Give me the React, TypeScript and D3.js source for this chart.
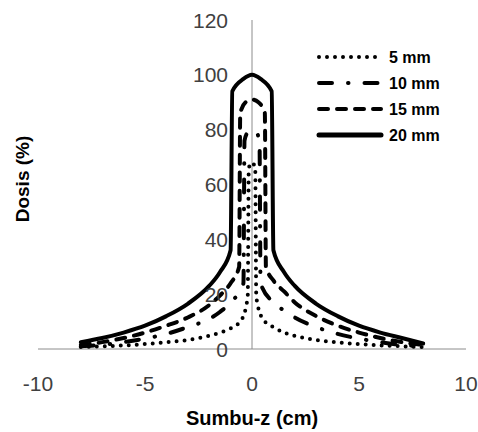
import * as d3 from 'd3'

// depth along z (cm) and relative dose (%) per field size
const z5 = [-8, -7, -6, -5, -4, -3, -2, -1.5, -1, -0.5, -0.2, -0.15, 0, 0.15, 0.2, 0.5, 1, 1.5, 2, 3, 4, 5, 6, 7, 8]
const dose5 = [0.7, 1, 1.3, 1.8, 2.5, 3.3, 4.8, 6, 7.5, 10.5, 19, 66, 68, 66, 19, 11, 8, 6, 4.8, 3.3, 2.4, 1.8, 1.3, 1, 0.7]

const z10 = [-8, -7, -6, -5, -4, -3, -2, -1.5, -1, -0.4, -0.35, -0.2, 0, 0.2, 0.35, 0.4, 1, 1.5, 2, 3, 4, 5, 6, 7, 8]
const dose10 = [1, 1.5, 2.5, 3.8, 5.5, 8, 11, 13.5, 17, 24, 76, 79, 80, 79, 76, 24, 17, 14, 11.5, 8, 5.5, 3.8, 2.5, 1.5, 1]

const z15 = [-8, -7, -6, -5, -4, -3, -2, -1.5, -1, -0.6, -0.55, -0.3, 0, 0.3, 0.6, 0.65, 1, 1.5, 2, 3, 4, 5, 6, 7, 8]
const dose15 = [1.5, 2.5, 4, 6, 8.5, 11.5, 16, 19.5, 24, 30, 86, 90, 91, 90, 86, 30, 25, 21, 17, 12, 8.5, 6, 4, 2.5, 1.5]

const z20 = [-8, -7, -6, -5, -4, -3, -2, -1.5, -1, -0.92, -0.4, 0, 0.4, 0.92, 1, 1.5, 2, 3, 4, 5, 6, 7, 8]
const dose20 = [2.5, 4, 6, 8.5, 12, 16.5, 23, 28, 36, 94, 98.5, 100, 98.5, 94, 36, 28, 23, 16.5, 12, 8.5, 6, 4, 2]

const seriesNames = ['5 mm', '10 mm', '15 mm', '20 mm']
const xTicks = [-10, -5, 0, 5, 10]
const yTicks = [0, 20, 40, 60, 80, 100, 120]

const styles = [
  { dash: '0 8', width: 4 },
  { dash: '13 16 0.5 16', width: 4 },
  { dash: '9 9', width: 4 },
  { dash: null, width: 4 },
]

export default function App() {
  const width = 478
  const height = 432
  const x = d3.scaleLinear().domain([-10, 10]).range([38, 466])
  const y = d3.scaleLinear().domain([0, 120]).range([349, 20])

  const series = [
    { z: z5, d: dose5 },
    { z: z10, d: dose10 },
    { z: z15, d: dose15 },
    { z: z20, d: dose20 },
  ]

  const line = d3.line<[number, number]>()
    .x(p => x(p[0]))
    .y(p => y(p[1]))
    .curve(d3.curveMonotoneX)

  const font = '"Liberation Sans", Arial, sans-serif'

  return (
    <svg width={width} height={height} style={{ position: 'absolute', left: 0, top: 0, background: '#fff' }}>
      {/* axes */}
      <line x1={x(-10)} x2={x(10)} y1={y(0)} y2={y(0)} stroke="#8c8c8c" strokeWidth={1} />
      <line x1={x(0)} x2={x(0)} y1={y(0)} y2={y(120)} stroke="#8c8c8c" strokeWidth={1} />

      {/* series */}
      {series.map((s, i) => (
        <path
          key={i}
          d={line(s.z.map((v, j) => [v, s.d[j]] as [number, number])) || ''}
          fill="none"
          stroke="#000"
          strokeWidth={styles[i].width}
          strokeDasharray={styles[i].dash || undefined}
          strokeLinecap="round"
          strokeLinejoin="round"
        />
      ))}

      {/* y tick labels */}
      {yTicks.map(t => (
        <text key={t} x={228} y={y(t)} dy="0.36em" textAnchor="end"
          fontFamily={font} fontSize={21} fill="#404040">{t}</text>
      ))}

      {/* x tick labels */}
      {xTicks.map(t => (
        <text key={t} x={x(t)} y={383} dy="0.36em" textAnchor="middle"
          fontFamily={font} fontSize={21} fill="#404040">{t}</text>
      ))}

      {/* axis titles */}
      <text x={252} y={418} dy="0.36em" textAnchor="middle" fontFamily={font}
        fontSize={20} fontWeight="bold" fill="#000">Sumbu-z (cm)</text>
      <text transform={`translate(22,179) rotate(-90)`} dy="0.36em" textAnchor="middle"
        fontFamily={font} fontSize={19} fontWeight="bold" fill="#000">Dosis (%)</text>

      {/* legend */}
      {seriesNames.map((name, i) => {
        const ly = 57 + i * 26
        return (
          <g key={name}>
            <line x1={319} x2={381} y1={ly} y2={ly} stroke="#000"
              strokeWidth={i === 3 ? 5 : styles[i].width}
              strokeDasharray={styles[i].dash || undefined}
              strokeLinecap="round" />
            <text x={389} y={ly} dy="0.36em" fontFamily={font} fontSize={16}
              fontWeight="bold" fill="#000">{name}</text>
          </g>
        )
      })}
    </svg>
  )
}
